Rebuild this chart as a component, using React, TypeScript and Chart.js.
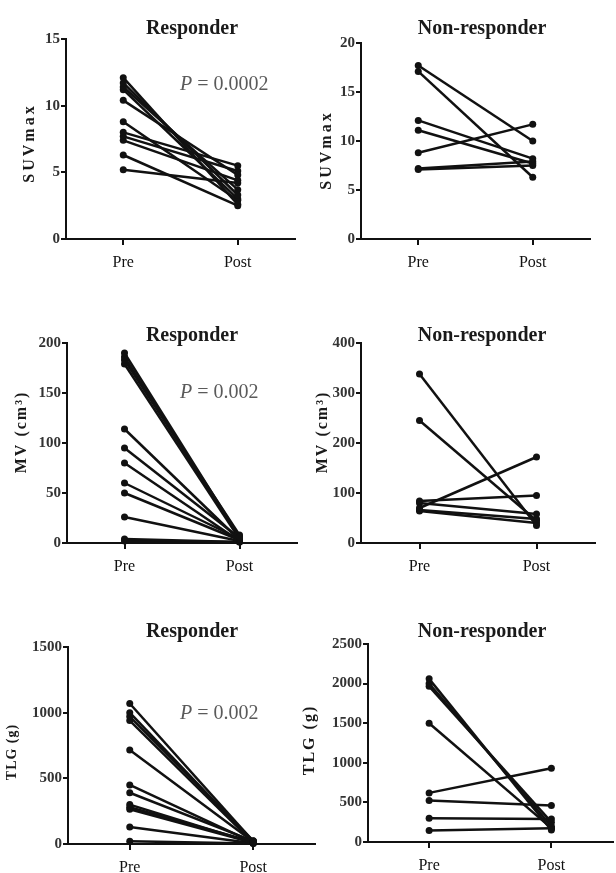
import { useEffect, useRef } from 'react';
import { Chart, registerables } from 'chart.js';
Chart.register(...registerables);

const xTickLabels = ['Pre', 'Post'];

const suvRespPre = [12.1, 11.7, 11.4, 11.2, 10.4, 8.8, 8.0, 7.7, 7.4, 6.3, 5.2];
const suvRespPost = [2.6, 3.3, 3.7, 3.0, 4.8, 2.9, 5.5, 5.1, 4.4, 2.5, 4.2];
const suvNonPre = [17.7, 17.1, 12.1, 11.1, 8.8, 7.1, 7.2];
const suvNonPost = [10.0, 6.3, 8.2, 7.7, 11.7, 7.5, 7.9];
const mvRespPre = [190, 186, 183, 179, 114, 95, 80, 60, 50, 26, 4, 2];
const mvRespPost = [6, 5, 8, 4, 3, 5, 2, 4, 3, 2, 1, 1];
const mvNonPre = [338, 245, 70, 84, 80, 66, 64];
const mvNonPost = [35, 45, 172, 95, 58, 48, 40];
const tlgRespPre = [1070, 1000, 970, 940, 715, 450, 390, 300, 280, 265, 130, 20];
const tlgRespPost = [20, 15, 25, 10, 18, 12, 22, 8, 15, 10, 5, 3];
const tlgNonPre = [2060, 2000, 1965, 1500, 620, 525, 300, 145];
const tlgNonPost = [150, 200, 250, 175, 930, 460, 290, 175];

const W = 616;
const H = 873;
const FONT = '"Liberation Serif", "DejaVu Serif", serif';
const INK = '#111111';

type Panel = {
  pre: number[];
  post: number[];
  yMax: number;
  step: number;
  area: { l: number; r: number; t: number; b: number };
  title: string;
  tx: number;
  ty: number;
  label: string;
  lx: number;
  ly: number;
  ls: number;
  sp: number;
  p?: string;
  px?: number;
  py?: number;
};

const panels: Panel[] = [
  { pre: suvRespPre, post: suvRespPost, yMax: 15, step: 5, area: { l: 66, r: 295, t: 39, b: 239 },
    title: 'Responder', tx: 192, ty: 29, label: 'SUVmax', lx: 30, ly: 143, ls: 16, sp: 3,
    p: '0.0002', px: 180, py: 85 },
  { pre: suvNonPre, post: suvNonPost, yMax: 20, step: 5, area: { l: 361, r: 590, t: 43, b: 239 },
    title: 'Non-responder', tx: 482, ty: 29, label: 'SUVmax', lx: 327, ly: 150, ls: 16, sp: 3 },
  { pre: mvRespPre, post: mvRespPost, yMax: 200, step: 50, area: { l: 67, r: 297, t: 343, b: 543 },
    title: 'Responder', tx: 192, ty: 336, label: 'MV (cm³)', lx: 22, ly: 432, ls: 16, sp: 2,
    p: '0.002', px: 180, py: 393 },
  { pre: mvNonPre, post: mvNonPost, yMax: 400, step: 100, area: { l: 361, r: 595, t: 343, b: 543 },
    title: 'Non-responder', tx: 482, ty: 336, label: 'MV (cm³)', lx: 323, ly: 432, ls: 16, sp: 2 },
  { pre: tlgRespPre, post: tlgRespPost, yMax: 1500, step: 500, area: { l: 68, r: 315, t: 647, b: 844 },
    title: 'Responder', tx: 192, ty: 632, label: 'TLG (g)', lx: 12, ly: 752, ls: 14, sp: 1,
    p: '0.002', px: 180, py: 714 },
  { pre: tlgNonPre, post: tlgNonPost, yMax: 2500, step: 500, area: { l: 368, r: 613, t: 644, b: 842 },
    title: 'Non-responder', tx: 482, ty: 632, label: 'TLG (g)', lx: 310, ly: 740, ls: 16, sp: 2 },
];

const deco = {
  id: 'deco',
  afterDraw(chart: any, _args: any, o: any) {
    const ctx = chart.ctx as CanvasRenderingContext2D;
    ctx.save();
    ctx.fillStyle = '#1a1a1a';
    ctx.textAlign = 'center';
    ctx.textBaseline = 'middle';
    ctx.font = `bold 20px ${FONT}`;
    ctx.fillText(o.title, o.tx, o.ty);

    ctx.save();
    ctx.translate(o.lx, o.ly);
    ctx.rotate(-Math.PI / 2);
    ctx.font = `bold ${o.ls}px ${FONT}`;
    (ctx as any).letterSpacing = `${o.sp}px`;
    ctx.fillText(o.label, 0, 0);
    ctx.restore();

    if (o.p) {
      ctx.textAlign = 'left';
      ctx.fillStyle = '#5a5a5a';
      ctx.font = `italic 20px ${FONT}`;
      ctx.fillText('P', o.px, o.py);
      const w = ctx.measureText('P').width;
      ctx.font = `20px ${FONT}`;
      ctx.fillText(' = ' + o.p, o.px + w, o.py);
    }
    ctx.restore();
  },
};

function PanelChart({ cfg }: { cfg: Panel }) {
  const ref = useRef<HTMLCanvasElement | null>(null);
  useEffect(() => {
    if (!ref.current) return;
    const { area } = cfg;
    const xAxisH = 40;
    const datasets = cfg.pre.map((v, i) => ({
      data: [
        { x: 1, y: v },
        { x: 2, y: cfg.post[i] },
      ],
      borderColor: INK,
      backgroundColor: INK,
      borderWidth: 2.5,
      pointRadius: 3.5,
      pointBorderWidth: 0,
      pointHoverRadius: 3.5,
      clip: false as any,
    }));
    const chart = new Chart(ref.current, {
      type: 'line',
      data: { datasets },
      plugins: [deco],
      options: {
        animation: false,
        responsive: false,
        maintainAspectRatio: false,
        devicePixelRatio: 1,
        events: [],
        layout: {
          padding: { left: 0, top: area.t, right: W - area.r, bottom: H - area.b - xAxisH },
        },
        plugins: {
          legend: { display: false },
          tooltip: { enabled: false },
          title: { display: false },
          deco: {
            title: cfg.title, tx: cfg.tx, ty: cfg.ty,
            label: cfg.label, lx: cfg.lx, ly: cfg.ly, ls: cfg.ls, sp: cfg.sp,
            p: cfg.p, px: cfg.px, py: cfg.py,
          },
        } as any,
        scales: {
          x: {
            type: 'linear',
            min: 0.5,
            max: 2.5,
            afterFit: (s: any) => { s.height = xAxisH; },
            afterBuildTicks: (s: any) => { s.ticks = [{ value: 1 }, { value: 2 }]; },
            grid: { display: true, drawOnChartArea: false, drawTicks: true, tickLength: 6, color: INK, lineWidth: 2 },
            border: { display: true, color: INK, width: 2 },
            ticks: {
              padding: 8,
              color: '#111',
              font: { family: FONT, size: 16 },
              callback: (v: any) => (v === 1 ? xTickLabels[0] : v === 2 ? xTickLabels[1] : ''),
            },
          },
          y: {
            type: 'linear',
            min: 0,
            max: cfg.yMax,
            afterFit: (s: any) => { s.width = area.l; },
            grid: { display: true, drawOnChartArea: false, drawTicks: true, tickLength: 5, color: INK, lineWidth: 2 },
            border: { display: true, color: INK, width: 2 },
            ticks: {
              stepSize: cfg.step,
              padding: 1,
              color: '#333',
              font: { family: FONT, size: 15, weight: 'bold' },
              callback: (v: any) => String(v),
            },
          },
        },
      },
    });
    return () => chart.destroy();
  }, [cfg]);
  return (
    <canvas
      ref={ref}
      width={W}
      height={H}
      style={{ position: 'absolute', left: 0, top: 0, width: W, height: H }}
    />
  );
}

export default function App() {
  return (
    <div style={{ position: 'absolute', left: 0, top: 0, width: W, height: H, background: '#fff' }}>
      {panels.map((p, i) => (
        <PanelChart key={i} cfg={p} />
      ))}
    </div>
  );
}
